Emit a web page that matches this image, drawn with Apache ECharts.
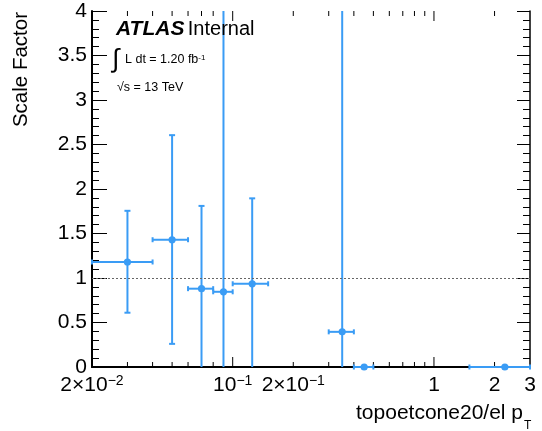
<!DOCTYPE html>
<html lang="en">
<head>
    <meta charset="UTF-8">
    <title>Scale Factor vs topoetcone20/el pT</title>
    <script src="https://cdn.jsdelivr.net/npm/echarts@6.0.0/dist/echarts.min.js"></script>
    <style>
        html, body { margin: 0; padding: 0; background: #fff; }
        #chart { width: 542px; height: 431px; }
    </style>
</head>
<body>
<div id="chart"></div>
<script type="text/javascript">
    // bin centres and edges (x), scale factor with errors (y)
    var xCenter = [0.03, 0.05, 0.07, 0.09, 0.125, 0.35, 0.45, 2.25];
    var xLow    = [0.02, 0.04, 0.06, 0.08, 0.10, 0.30, 0.40, 1.5];
    var xHigh   = [0.04, 0.06, 0.08, 0.10, 0.15, 0.40, 0.50, 3.0];
    var sf      = [1.18, 1.43, 0.88, 0.845, 0.935, 0.395, 0, 0];
    var sfLow   = [0.61, 0.26, 0, 0, 0, 0, 0, 0];
    var sfHigh  = [1.755, 2.605, 1.81, 4.5, 1.895, 4.5, 0, 0];

    // log axis ticks and labels
    var minorTicks = [0.03, 0.04, 0.05, 0.06, 0.07, 0.08, 0.09, 0.2, 0.3, 0.4, 0.5, 0.6, 0.7, 0.8, 0.9, 2];
    var majorTicks = [0.1, 1];
    var labelVals  = [0.02, 0.1, 0.2, 1, 2, 3];
    var labelTexts = ['2×10{sup|−2}', '10{sup|−1}', '2×10{sup|−1}', '1', '2', '3'];

    var X_MIN = 0.02, X_MAX = 3, Y_MIN = 0, Y_MAX = 4;
    var color = '#3a9cf5';
    var font = "'Liberation Sans', Arial, sans-serif";

    var myChart = echarts.init(document.getElementById('chart'));

    var points = xCenter.map(function (x, i) {
        return [x, sf[i], xLow[i], xHigh[i], sfLow[i], sfHigh[i]];
    });
    var ticks = minorTicks.map(function (v) { return [v, 0]; })
        .concat(majorTicks.map(function (v) { return [v, 1]; }));
    var labels = labelVals.map(function (v, i) { return [v, i]; });

    function renderPoint(params, api) {
        var x = api.value(0), y = api.value(1);
        var xl = api.value(2), xh = api.value(3);
        var yl = Math.max(api.value(4), Y_MIN), yh = Math.min(api.value(5), Y_MAX);
        var c = api.coord([x, y]);
        var pl = api.coord([Math.max(xl, X_MIN), y]);
        var ph = api.coord([Math.min(xh, X_MAX), y]);
        var pt = api.coord([x, yh]);
        var pb = api.coord([x, yl]);
        var st = { stroke: color, lineWidth: 2 };
        var kids = [
            { type: 'line', shape: { x1: pl[0], y1: c[1], x2: ph[0], y2: c[1] }, style: st },
            { type: 'line', shape: { x1: pl[0], y1: c[1] - 2.5, x2: pl[0], y2: c[1] + 2.5 }, style: st },
            { type: 'line', shape: { x1: ph[0], y1: c[1] - 2.5, x2: ph[0], y2: c[1] + 2.5 }, style: st },
            { type: 'line', shape: { x1: c[0], y1: pb[1], x2: c[0], y2: pt[1] }, style: st }
        ];
        if (api.value(5) <= Y_MAX && yh > y) {
            kids.push({ type: 'line', shape: { x1: c[0] - 3, y1: pt[1], x2: c[0] + 3, y2: pt[1] }, style: st });
        }
        if (yl < y && yl > Y_MIN) {
            kids.push({ type: 'line', shape: { x1: c[0] - 3, y1: pb[1], x2: c[0] + 3, y2: pb[1] }, style: st });
        }
        kids.push({ type: 'circle', shape: { cx: c[0], cy: c[1], r: 3.6 }, style: { fill: color } });
        return { type: 'group', children: kids };
    }

    function renderTick(params, api) {
        var v = api.value(0);
        var len = api.value(1) ? 10 : 5;
        var b = api.coord([v, Y_MIN]);
        var t = api.coord([v, Y_MAX]);
        var st = { stroke: '#000', lineWidth: 1 };
        return {
            type: 'group',
            children: [
                { type: 'line', shape: { x1: b[0], y1: b[1], x2: b[0], y2: b[1] - len }, style: st },
                { type: 'line', shape: { x1: t[0], y1: t[1], x2: t[0], y2: t[1] + len }, style: st }
            ]
        };
    }

    function renderLabel(params, api) {
        var p = api.coord([api.value(0), Y_MIN]);
        return {
            type: 'text',
            x: p[0],
            y: p[1] + 18,
            style: {
                text: labelTexts[api.value(1)],
                fill: '#000',
                fontSize: 21,
                fontFamily: font,
                align: 'center', textAlign: 'center',
                verticalAlign: 'middle', textVerticalAlign: 'middle',
                rich: {
                    sup: { fontSize: 14, fontFamily: font, verticalAlign: 'top', fill: '#000' }
                }
            }
        };
    }

    myChart.setOption({
        animation: false,
        backgroundColor: '#fff',
        grid: { left: 92, right: 12, top: 11, bottom: 64 },
        xAxis: [
            {
                type: 'log', logBase: 10, min: X_MIN, max: X_MAX, position: 'bottom',
                axisLine: { show: true, lineStyle: { color: '#000', width: 2 } },
                axisTick: { show: false }, axisLabel: { show: false }, splitLine: { show: false }
            },
            {
                type: 'log', logBase: 10, min: X_MIN, max: X_MAX, position: 'top',
                axisLine: { show: true, lineStyle: { color: '#000', width: 1.5 } },
                axisTick: { show: false }, axisLabel: { show: false }, splitLine: { show: false }
            }
        ],
        yAxis: [
            {
                type: 'value', min: Y_MIN, max: Y_MAX, interval: 0.5, position: 'left',
                axisLine: { show: true, lineStyle: { color: '#000', width: 2 } },
                axisTick: { show: true, inside: true, length: 15, lineStyle: { color: '#000', width: 1 } },
                minorTick: { show: true, splitNumber: 5, length: 7, lineStyle: { color: '#000', width: 1 } },
                axisLabel: { color: '#000', fontSize: 21, fontFamily: font, margin: 5 },
                splitLine: { show: false }
            },
            {
                type: 'value', min: Y_MIN, max: Y_MAX, interval: 0.5, position: 'right',
                axisLine: { show: true, lineStyle: { color: '#000', width: 1.5 } },
                axisTick: { show: true, inside: true, length: 13, lineStyle: { color: '#000', width: 1 } },
                minorTick: { show: true, splitNumber: 5, length: 7, lineStyle: { color: '#000', width: 1 } },
                axisLabel: { show: false },
                splitLine: { show: false }
            }
        ],
        graphic: [
            {
                type: 'text', x: 21, y: 12, rotation: Math.PI / 2,
                style: {
                    text: 'Scale Factor', fill: '#000', fontSize: 20.5, fontFamily: font,
                    align: 'right', textAlign: 'right', verticalAlign: 'middle', textVerticalAlign: 'middle'
                }
            },
            {
                type: 'text', x: 523, y: 413,
                style: {
                    text: 'topoetcone20/el p', fill: '#000', fontSize: 21, fontFamily: font,
                    align: 'right', textAlign: 'right', verticalAlign: 'middle', textVerticalAlign: 'middle'
                }
            },
            {
                type: 'text', x: 524, y: 426,
                style: {
                    text: 'T', fill: '#000', fontSize: 12, fontFamily: font,
                    align: 'left', textAlign: 'left', verticalAlign: 'middle', textVerticalAlign: 'middle'
                }
            },
            {
                type: 'text', x: 116, y: 29, z: 10,
                style: {
                    text: '{b|ATLAS} {n|Internal}', fill: '#000',
                    verticalAlign: 'middle', textVerticalAlign: 'middle',
                    rich: {
                        b: { fontSize: 21, fontFamily: font, fontWeight: 'bold', fontStyle: 'italic', fill: '#000' },
                        n: { fontSize: 20, fontFamily: font, fill: '#000' }
                    }
                }
            },
            {
                type: 'text', x: 112, y: 47,
                style: { text: '∫', fill: '#000', fontSize: 26, fontFamily: font, verticalAlign: 'top', textVerticalAlign: 'top' }
            },
            {
                type: 'text', x: 125, y: 60,
                style: {
                    text: 'L dt = 1.20 fb{sup|-1}', fill: '#000', fontSize: 12.5, fontFamily: font,
                    verticalAlign: 'middle', textVerticalAlign: 'middle',
                    rich: { sup: { fontSize: 8, fontFamily: font, verticalAlign: 'top', fill: '#000' } }
                }
            },
            {
                type: 'text', x: 117, y: 87.5,
                style: {
                    text: '√s = 13 TeV', fill: '#000', fontSize: 12.5, fontFamily: font,
                    verticalAlign: 'middle', textVerticalAlign: 'middle'
                }
            }
        ],
        series: [
            {
                type: 'custom',
                xAxisIndex: 0, yAxisIndex: 0,
                data: ticks,
                renderItem: renderTick,
                silent: true,
                z: 3
            },
            {
                type: 'custom',
                xAxisIndex: 0, yAxisIndex: 0,
                data: labels,
                renderItem: renderLabel,
                clip: false,
                silent: true
            },
            {
                type: 'custom',
                xAxisIndex: 0, yAxisIndex: 0,
                data: points,
                encode: { x: 0, y: 1 },
                renderItem: renderPoint,
                clip: false,
                z: 4,
                markLine: {
                    silent: true,
                    symbol: 'none',
                    label: { show: false },
                    lineStyle: { color: '#666', type: [2, 2], width: 1 },
                    data: [{ yAxis: 1 }]
                }
            }
        ]
    });
</script>
</body>
</html>
